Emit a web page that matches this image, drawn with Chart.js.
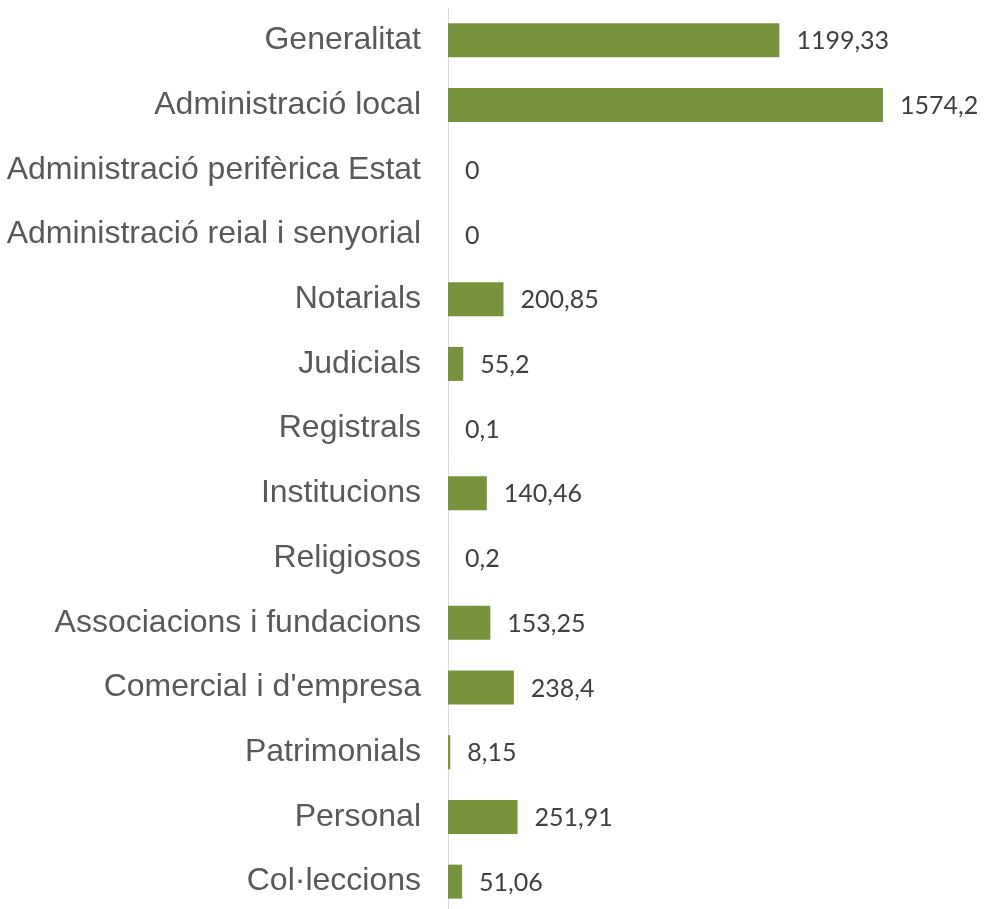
<!DOCTYPE html>
<html>
<head>
<meta charset="utf-8">
<script src="https://cdn.jsdelivr.net/npm/chart.js@4/dist/chart.umd.min.js"></script>
<style>
  html, body { margin: 0; padding: 0; background: #fff; overflow: hidden; }
  #wrap { position: relative; width: 986px; height: 914px; }
</style>
</head>
<body>
<div id="wrap"><canvas id="chart"></canvas></div>
<script>
// categories i valors (llegits del gràfic)
const categories = [
    'Generalitat',
    'Administració local',
    'Administració perifèrica Estat',
    'Administració reial i senyorial',
    'Notarials',
    'Judicials',
    'Registrals',
    'Institucions',
    'Religiosos',
    'Associacions i fundacions',
    "Comercial i d'empresa",
    'Patrimonials',
    'Personal',
    'Col·leccions',
];
const valors = [1199.33, 1574.2, 0, 0, 200.85, 55.2, 0.1, 140.46, 0.2, 153.25, 238.4, 8.15, 251.91, 51.06];

const VERD = '#77933C';

/* etiquetes de valor a la dreta de cada barra */
const etiquetesValor = {
    id: 'etiquetesValor',
    afterDatasetsDraw(chart) {
        const ctx = chart.ctx;
        const meta = chart.getDatasetMeta(0);
        ctx.save();
        ctx.font = '25px Lato';
        ctx.fillStyle = '#404040';
        ctx.textAlign = 'left';
        ctx.textBaseline = 'middle';
        meta.data.forEach((bar, i) => {
            const txt = String(valors[i]).replace('.', ',');
            ctx.fillText(txt, bar.x + 17, bar.y + 1);
        });
        ctx.restore();
    },
};

new Chart(document.getElementById('chart'), {
    type: 'bar',
    data: {
        labels: categories,
        datasets: [
            {
                data: valors,
                backgroundColor: VERD,
                borderWidth: 0,
                barPercentage: 0.525,
                categoryPercentage: 1,
            },
        ],
    },
    options: {
        indexAxis: 'y',
        responsive: true,
        maintainAspectRatio: false,
        animation: false,
        layout: { padding: { top: 8, bottom: 0, left: 0, right: 13 } },
        plugins: {
            legend: { display: false },
            tooltip: { enabled: false },
        },
        scales: {
            x: {
                display: false,
                min: 0,
                max: 1900,
            },
            y: {
                grid: { display: false },
                border: { display: true, color: '#d9d9d9', width: 1 },
                ticks: {
                    color: '#595959',
                    font: { family: 'Liberation Sans', size: 32 },
                    padding: 19,
                    autoSkip: false,
                },
                afterFit(scale) {
                    scale.width = 448;
                    scale.paddingTop = 0;
                    scale.paddingBottom = 0;
                },
            },
        },
    },
    plugins: [etiquetesValor],
});
</script>
</body>
</html>
